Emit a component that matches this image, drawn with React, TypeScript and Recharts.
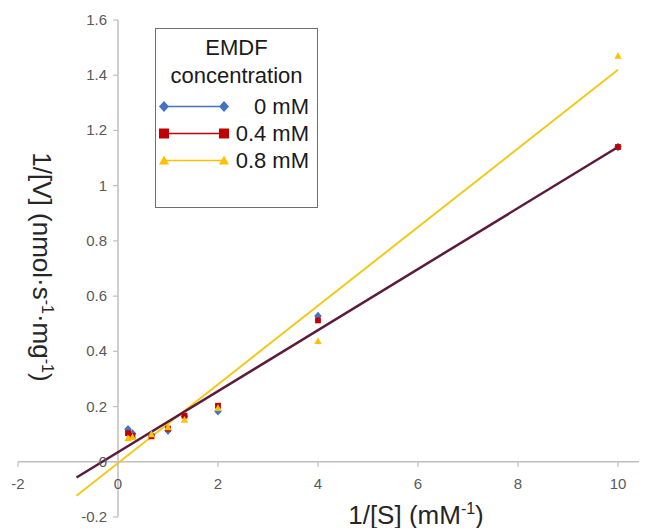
import React from "react";
import { ComposedChart, Scatter, Line, XAxis, YAxis, ReferenceLine } from "recharts";

// ---- data ----
const xValues = [0.2, 0.29, 0.67, 1, 1.33, 2, 4, 10];
const blueValues = [0.118, 0.102, 0.097, 0.113, 0.165, 0.183, 0.528, 1.14];
const redValues = [0.104, 0.093, 0.092, 0.12, 0.167, 0.203, 0.512, 1.14];
const yellowValues = [0.085, 0.09, 0.1, 0.125, 0.152, 0.195, 0.437, 1.47];
const trendX = [-0.83, 10];
const trendLowY = [-0.057, 1.14];
const trendHighY = [-0.123, 1.42];
const xTicks = [-2, 0, 2, 4, 6, 8, 10];
const yTicks = [-0.2, 0, 0.2, 0.4, 0.6, 0.8, 1, 1.2, 1.4, 1.6];
const seriesNames = ["0 mM", "0.4 mM", "0.8 mM"];
const legendTitle = ["EMDF", "concentration"];

const X_DOMAIN: [number, number] = [-2, 10.5];
const Y_DOMAIN: [number, number] = [-0.2, 1.6];

const W = 639;
const H = 520;
const AXIS_SIZE = 1;
const margin = { top: 12, right: 4, bottom: 11 - AXIS_SIZE, left: 10 - AXIS_SIZE };
const plotLeft = margin.left + AXIS_SIZE;
const plotW = W - plotLeft - margin.right;
const plotH = H - margin.top - margin.bottom - AXIS_SIZE;
const X0 = plotLeft + ((0 - X_DOMAIN[0]) / (X_DOMAIN[1] - X_DOMAIN[0])) * plotW;
const Y0 = margin.top + ((Y_DOMAIN[1] - 0) / (Y_DOMAIN[1] - Y_DOMAIN[0])) * plotH;

const FONT = "'Liberation Sans', Arial, sans-serif";
const AXIS_GREY = "#bfbfbf";
const TEXT_GREY = "#595959";
const BLUE = "#4472c4";
const RED = "#c00000";
const YELLOW = "#ffc000";
const TREND_LOW = "#5c1a3c";
const TREND_HIGH = "#f2c91a";

const toPts = (xs: number[], ys: number[]) => xs.map((x, i) => ({ x, y: ys[i] }));
const blueData = toPts(xValues, blueValues);
const redData = toPts(xValues, redValues);
const yellowData = toPts(xValues, yellowValues);
const trendLowData = toPts(trendX, trendLowY);
const trendHighData = toPts(trendX, trendHighY);

const Diamond = ({ cx, cy, fill, s = 3.8 }: any) => (
  <path d={`M${cx},${cy - s - 0.5}L${cx + s},${cy}L${cx},${cy + s + 0.5}L${cx - s},${cy}Z`} fill={fill} />
);
const Square = ({ cx, cy, fill, s = 2.9 }: any) => (
  <rect x={cx - s} y={cy - s} width={2 * s} height={2 * s} fill={fill} />
);
const Triangle = ({ cx, cy, fill, s = 3.7 }: any) => (
  <path d={`M${cx},${cy - s}L${cx + s},${cy + s * 0.8}L${cx - s},${cy + s * 0.8}Z`} fill={fill} />
);

const XTick = (props: any) => {
  const { x, payload } = props;
  return (
    <g>
      <line x1={x} y1={Y0} x2={x} y2={Y0 + 5} stroke={AXIS_GREY} strokeWidth={1.2} />
      <text x={x} y={Y0 + 27} textAnchor="middle" fontSize={15} fill={TEXT_GREY} fontFamily={FONT}>
        {payload.value}
      </text>
    </g>
  );
};

const YTick = (props: any) => {
  const { y, payload } = props;
  return (
    <g>
      <line x1={X0 - 5} y1={y} x2={X0} y2={y} stroke={AXIS_GREY} strokeWidth={1.2} />
      <text x={X0 - 11} y={y + 5} textAnchor="end" fontSize={15} fill={TEXT_GREY} fontFamily={FONT}>
        {payload.value}
      </text>
    </g>
  );
};

const legendMarkers = [
  { name: seriesNames[0], color: BLUE, Shape: Diamond },
  { name: seriesNames[1], color: RED, Shape: Square },
  { name: seriesNames[2], color: YELLOW, Shape: Triangle },
];

export default function App() {
  return (
    <div style={{ position: "relative", width: W, height: H, fontFamily: FONT, background: "#fff" }}>
      <ComposedChart width={W} height={H} margin={margin}>
        <XAxis
          type="number"
          dataKey="x"
          domain={X_DOMAIN}
          ticks={xTicks}
          interval={0}
          allowDataOverflow
          axisLine={false}
          tickLine={false}
          height={AXIS_SIZE}
          tick={<XTick />}
        />
        <YAxis
          type="number"
          dataKey="y"
          domain={Y_DOMAIN}
          ticks={yTicks}
          interval={0}
          allowDataOverflow
          axisLine={false}
          tickLine={false}
          width={AXIS_SIZE}
          tick={<YTick />}
        />
        <ReferenceLine y={0} stroke={AXIS_GREY} strokeWidth={1.5} />
        <ReferenceLine x={0} stroke={AXIS_GREY} strokeWidth={1.5} />
        <Scatter data={blueData} isAnimationActive={false} shape={(p: any) => <Diamond cx={p.cx} cy={p.cy} fill={BLUE} />} />
        <Scatter data={redData} isAnimationActive={false} shape={(p: any) => <Square cx={p.cx} cy={p.cy} fill={RED} />} />
        <Scatter data={yellowData} isAnimationActive={false} shape={(p: any) => <Triangle cx={p.cx} cy={p.cy} fill={YELLOW} />} />
        <Line data={trendHighData} dataKey="y" stroke={TREND_HIGH} strokeWidth={2} dot={false} isAnimationActive={false} />
        <Line data={trendLowData} dataKey="y" stroke={TREND_LOW} strokeWidth={2.5} dot={false} isAnimationActive={false} />
      </ComposedChart>

      {/* y axis title */}
      <div
        style={{
          position: "absolute",
          left: 41 - 8,
          top: 267 - 8,
          transform: "translate(-50%, -50%) rotate(90deg)",
          whiteSpace: "nowrap",
          fontSize: 26,
          color: "#262626",
        }}
      >
        1/[V] (nmol·s<sup style={{ fontSize: 16 }}>-1</sup>·mg<sup style={{ fontSize: 16 }}>-1</sup>)
      </div>

      {/* x axis title */}
      <div
        style={{
          position: "absolute",
          left: 416 - 8,
          top: 515 - 8,
          transform: "translate(-50%, -50%)",
          whiteSpace: "nowrap",
          fontSize: 26,
          color: "#262626",
        }}
      >
        1/[S] (mM<sup style={{ fontSize: 16 }}>-1</sup>)
      </div>

      {/* legend */}
      <div
        style={{
          position: "absolute",
          left: 155 - 8,
          top: 28 - 8,
          width: 163,
          height: 180,
          boxSizing: "border-box",
          border: "1.8px solid #6f6f6f",
          background: "#fff",
          paddingTop: 5,
          fontSize: 22,
          lineHeight: "28px",
          color: "#1a1a1a",
        }}
      >
        {legendTitle.map((t) => (
          <div key={t} style={{ textAlign: "center" }}>
            {t}
          </div>
        ))}
        <div style={{ height: 3 }} />
        {legendMarkers.map(({ name, color, Shape }) => (
          <div key={name} style={{ position: "relative", height: 27, textAlign: "right", paddingRight: 8 }}>
            <svg width={72} height={27} style={{ position: "absolute", left: 2, top: 0 }}>
              <line x1={6} y1={13.5} x2={66} y2={13.5} stroke={color} strokeWidth={1.5} />
              <Shape cx={6} cy={13.5} fill={color} s={5} />
              <Shape cx={66} cy={13.5} fill={color} s={5} />
            </svg>
            {name}
          </div>
        ))}
      </div>
    </div>
  );
}
